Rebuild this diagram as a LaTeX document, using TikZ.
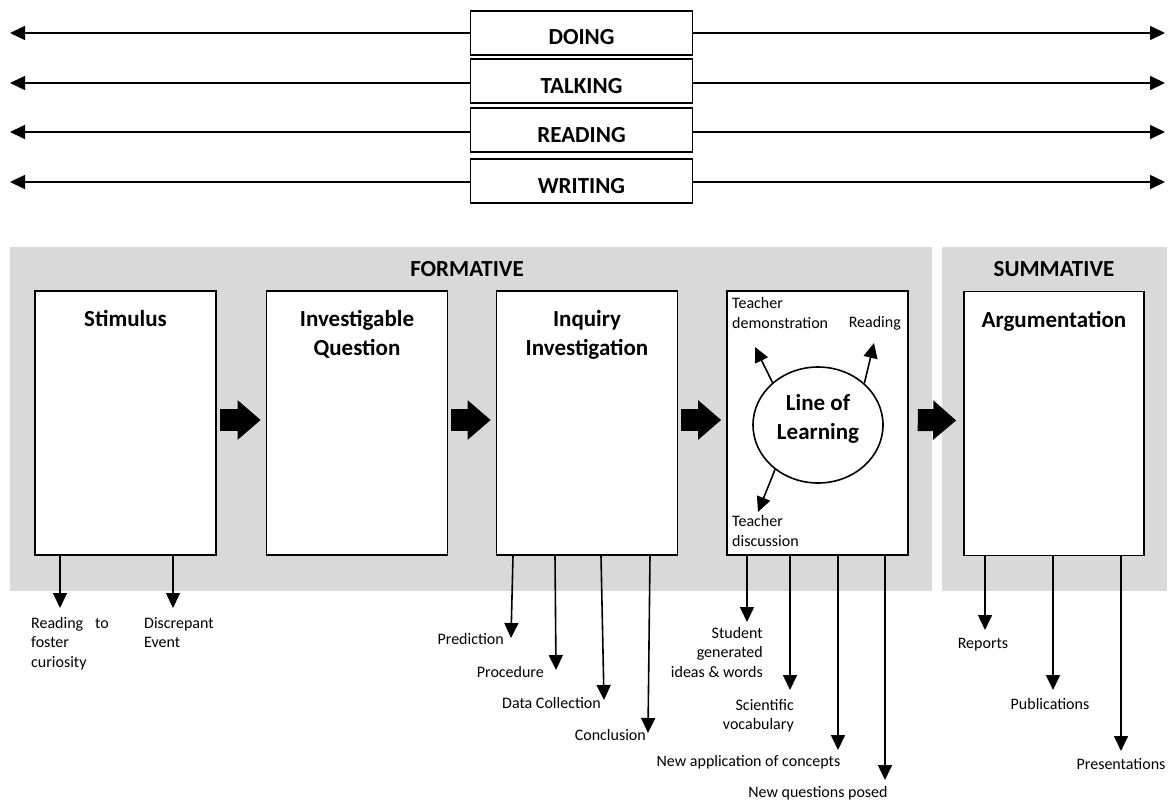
\documentclass[tikz,border=0pt]{standalone}
\usepackage{fontspec}
\setmainfont{Carlito}
\usetikzlibrary{arrows.meta,shapes.geometric,calc}
\definecolor{bggray}{HTML}{D9D9D9}
\begin{document}
\begin{tikzpicture}[x=1pt,y=-1pt,
  every node/.style={inner sep=0pt},
  bx/.style={draw, line width=1.6pt, fill=white, minimum width=181pt, minimum height=264pt},
  barbox/.style={draw, line width=1.4pt, fill=white, minimum width=222pt, minimum height=44pt,
    font=\fontsize{23}{28}\selectfont\bfseries, text height=24pt, text depth=0pt},
  head/.style={font=\fontsize{23}{29}\selectfont\bfseries, align=center},
  hl/.style={head, anchor=north, yshift=-20pt},
  sm/.style={font=\fontsize{16}{19.5}\selectfont},
  arr/.style={line width=1.6pt, -{Triangle[length=15pt,width=14pt]}},
  fat/.style={line width=22pt, -{Triangle[length=23pt,width=38pt]}},
]
\useasboundingbox (0,0) rectangle (1174,800);

% backgrounds
\fill[bggray] (10,247) rectangle (932,591);
\fill[bggray] (942,247) rectangle (1167,591);
\node[head] (form) at (467,269) {FORMATIVE};
\node[head] (summ) at (1054,269) {SUMMATIVE};

% top bars
\foreach \n/\t/\by/\y in {doing/DOING/33/33, talking/TALKING/81/83, reading/READING/130/132, writing/WRITING/181/182}{
  \node[barbox] (\n) at (581.5,\by) {\t};
  \coordinate (\n-L) at (10,\y);
  \coordinate (\n-R) at (1165,\y);
  \draw[arr] (\n.west |- \n-L) -- (\n-L);
  \draw[arr] (\n.east |- \n-R) -- (\n-R);
}

% main boxes
\node[bx, label={[hl]north:Stimulus}] (stim) at (125.5,423) {};
\node[bx, label={[hl]north:Investigable\\Question}] (inv) at (357,423) {};
\node[bx, label={[hl]north:Inquiry\\Investigation}] (inq) at (587,423) {};
\node[bx] (lol) at (817.5,423) {};
\node[bx, minimum width=180pt, label={[hl]north:Argumentation}] (arg) at (1054,423.5) {};

% fat arrows
\draw[fat] ([xshift=3pt,yshift=3pt]stim.east) -- ([xshift=-5pt,yshift=3pt]inv.west);
\draw[fat] ([xshift=3pt,yshift=3pt]inv.east) -- ([xshift=-5pt,yshift=3pt]inq.west);
\draw[fat] ([xshift=3pt,yshift=3pt]inq.east) -- ([xshift=-5pt,yshift=3pt]lol.west);
\draw[fat] ([xshift=9pt,yshift=3pt]lol.east) -- ([xshift=-7pt,yshift=3pt]arg.west);

% line of learning
\node[ellipse, draw, line width=1.6pt, fill=white, minimum width=130pt, minimum height=116pt,
  label={[head, yshift=6pt]center:Line of\\Learning}] (circ) at (818,425) {};
\coordinate (tdT) at (755,347);
\coordinate (rdT) at (874,343);
\coordinate (tsT) at (758,512);
\draw[arr] (circ.137) -- (tdT);
\draw[arr] (circ.42) -- (rdT);
\draw[arr] (circ.226) -- (tsT);
\node[sm, align=left, anchor=west] (tdem) at (732,313) {Teacher\\demonstration};
\node[sm, anchor=east] (trd) at (901,323) {Reading};
\node[sm, align=left, anchor=west] (tdis) at (732,531) {Teacher\\discussion};

% stimulus outputs
\coordinate (s1) at (60,608);
\coordinate (s2) at (173,608);
\draw[arr] (60,0 |- stim.south) -- (s1);
\draw[arr] (173,0 |- stim.south) -- (s2);
\node[sm, align=left, anchor=north west] (ls1) at (31,617) {Reading\hspace{0.75em}to\\foster\\curiosity};
\node[sm, align=left, anchor=north west] (ls2) at (144,617) {Discrepant\\Event};

% inquiry outputs
\coordinate (q1) at (511,638);
\coordinate (q2) at (556,670);
\coordinate (q3) at (604,700);
\coordinate (q4) at (648,733);
\draw[arr] (513,0 |- inq.south) -- (q1);
\draw[arr] (555,0 |- inq.south) -- (q2);
\draw[arr] (601,0 |- inq.south) -- (q3);
\draw[arr] (650,0 |- inq.south) -- (q4);
\node[sm, anchor=base east] (lq1) at (504,644) {Prediction};
\node[sm, anchor=base east] (lq2) at (544,677) {Procedure};
\node[sm, anchor=base east] (lq3) at (601,708) {Data Collection};
\node[sm, anchor=base east] (lq4) at (646,740) {Conclusion};

% line of learning outputs
\coordinate (o1) at (747,622);
\coordinate (o2) at (790,690);
\coordinate (o3) at (838,750);
\coordinate (o4) at (885,780);
\draw[arr] (747,0 |- lol.south) -- (o1);
\draw[arr] (790,0 |- lol.south) -- (o2);
\draw[arr] (838,0 |- lol.south) -- (o3);
\draw[arr] (885,0 |- lol.south) -- (o4);
\node[sm, align=right, anchor=north east] (lo1) at (763,627) {Student\\generated\\ideas \& words};
\node[sm, align=right, anchor=north east] (lo2) at (794,699) {Scientific\\vocabulary};
\node[sm, anchor=base] (lo3) at (748.5,766) {New application of concepts};
\node[sm, anchor=base] (lo4) at (818,797) {New questions posed};

% argumentation outputs
\coordinate (a1) at (985,630);
\coordinate (a2) at (1053,690);
\coordinate (a3) at (1121,751);
\draw[arr] (985,0 |- arg.south) -- (a1);
\draw[arr] (1053,0 |- arg.south) -- (a2);
\draw[arr] (1121,0 |- arg.south) -- (a3);
\node[sm, anchor=base] (la1) at (983,648) {Reports};
\node[sm, anchor=base] (la2) at (1050,709) {Publications};
\node[sm, anchor=base] (la3) at (1121,769) {Presentations};
\end{tikzpicture}
\end{document}
